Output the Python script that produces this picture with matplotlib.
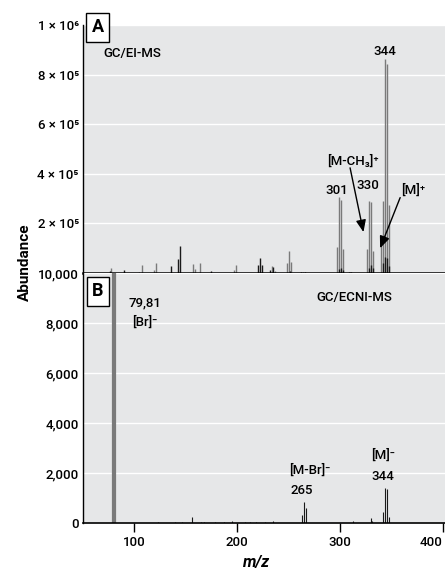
import matplotlib
matplotlib.use("Agg")
import matplotlib.pyplot as plt

plt.rcParams["font.family"] = ["Roboto", "DejaVu Sans"]
plt.rcParams["font.weight"] = "medium"

# --- GC/EI-MS (panel A): tall grey lines and short dark lines
ei_grey_mz = [77, 104, 107, 119, 121, 157, 159, 164, 197, 199, 234, 237,
              248, 250, 252, 264, 297, 299, 301, 303, 310,
              326, 328, 330, 332, 340, 342, 344, 346, 348]
ei_grey_ab = [19000, 3000, 32000, 12000, 39000, 36000, 16000, 42000, 14000, 32000, 27000, 8000,
              40000, 89000, 43000, 6000, 105000, 305000, 295000, 97000, 4000,
              97000, 290000, 285000, 90000, 145000, 292000, 863000, 841000, 276000]
ei_black_mz = [76, 90, 136, 142, 144, 174, 220, 222, 224, 232, 235, 251, 262, 266,
               299, 301, 303, 309, 311, 328, 330, 332, 342, 344, 346, 348]
ei_black_ab = [8000, 12000, 27000, 56000, 108000, 8000, 32000, 59000, 32000, 12000, 23000, 10000, 6000, 5000,
               15000, 20000, 12000, 5000, 5000, 20000, 32000, 20000, 40000, 64000, 60000, 30000]

# --- GC/ECNI-MS (panel B)
br_mz = [79, 81]
br_ab = [60000, 60000]
ecni_mz = [123, 139, 146, 155.6, 165, 168, 178, 187, 195, 208, 212, 218, 227, 235,
           263, 265, 267, 313, 330, 331, 342, 344, 346, 348]
ecni_ab = [60, 50, 40, 230, 60, 40, 50, 40, 70, 50, 40, 60, 40, 80,
           320, 830, 590, 100, 190, 100, 430, 1390, 1360, 250]

top_ticks = [200000, 400000, 600000, 800000, 1000000]
top_labels = ["2 × 10⁵", "4 × 10⁵", "6 × 10⁵", "8 × 10⁵", "1 × 10⁶"]
bot_ticks = [0, 2000, 4000, 6000, 8000, 10000]
bot_labels = ["0", "2,000", "4,000", "6,000", "8,000", "10,000"]
x_ticks = [100, 200, 300, 400]

BG = "#e6e7e8"
GREY = "#7a7a7a"
DARK = "#1a1a1a"
FS = 9.5

fig = plt.figure(figsize=(4.45, 5.74), dpi=100)
ax_a = fig.add_axes([83 / 445, 301 / 574, 362 / 445, 248 / 574])
ax_b = fig.add_axes([83 / 445, 51 / 574, 362 / 445, 250 / 574])

for ax in (ax_a, ax_b):
    ax.set_facecolor(BG)
    ax.set_xlim(50, 402)
    ax.set_axisbelow(True)
    ax.grid(axis="y", color="white", lw=1.0)
    ax.grid(axis="x", visible=False)
    for s in ("top", "right"):
        ax.spines[s].set_visible(False)
    ax.spines["left"].set_linewidth(1.0)
    ax.tick_params(axis="y", length=0, pad=3, labelsize=FS)
ax_a.spines["bottom"].set_linewidth(1.8)
ax_a.spines["bottom"].set_zorder(3)
ax_b.spines["bottom"].set_linewidth(1.2)

# panel A
ax_a.vlines(ei_grey_mz, 0, ei_grey_ab, color=GREY, lw=1.0)
ax_a.vlines(ei_black_mz, 0, ei_black_ab, color=DARK, lw=1.0)
ax_a.set_ylim(0, 1000000)
ax_a.set_yticks(top_ticks)
ax_a.set_yticklabels(top_labels)
ax_a.set_xticks(x_ticks)
ax_a.tick_params(axis="x", length=0, labelbottom=False)

ax_a.text(69.5, 884000, "GC/EI-MS", fontsize=FS, va="center", ha="left")
ax_a.text(344, 892000, "344", fontsize=FS, va="center", ha="center")
ax_a.text(297, 332000, "301", fontsize=FS, va="center", ha="center")
ax_a.text(327.2, 352000, "330", fontsize=FS, va="center", ha="center")
ax_a.text(312.6, 452000, "[M-CH₃]⁺", fontsize=FS, va="center", ha="center")
ax_a.text(371, 332000, "[M]⁺", fontsize=FS, va="center", ha="center")
ax_a.annotate("", xy=(322.7, 165000), xytext=(309.7, 424000),
              arrowprops=dict(arrowstyle="-|>,head_length=0.6,head_width=0.25", color="black",
                              lw=1.0, mutation_scale=12, shrinkA=0, shrinkB=0))
ax_a.annotate("", xy=(338.9, 100000), xytext=(358.4, 304000),
              arrowprops=dict(arrowstyle="-|>,head_length=0.6,head_width=0.25", color="black",
                              lw=1.0, mutation_scale=12, shrinkA=0, shrinkB=0))
ax_a.text(0.041, 0.99, "A", transform=ax_a.transAxes, fontsize=13, fontweight="bold",
          ha="center", va="center", clip_on=False,
          bbox=dict(boxstyle="square,pad=0.3", fc="white", ec="black", lw=1.0))

# panel B
ax_b.vlines(br_mz, 0, br_ab, color=GREY, lw=1.6)
ax_b.vlines(ecni_mz, 0, ecni_ab, color=DARK, lw=0.8)
ax_b.set_ylim(0, 10000)
ax_b.set_yticks(bot_ticks)
ax_b.set_yticklabels(bot_labels)
ax_b.set_xticks(x_ticks)
ax_b.set_xticklabels([str(t) for t in x_ticks])
ax_b.tick_params(axis="x", length=6.5, width=1.0, direction="out", pad=3, labelsize=FS)
ax_b.get_xticklabels()[-1].set_ha("right")

ax_b.text(313.6, 9000, "GC/ECNI-MS", fontsize=FS, va="center", ha="center")
ax_b.text(110.3, 8800, "79,81", fontsize=FS, va="center", ha="center")
ax_b.text(110.3, 8040, "[Br]⁻", fontsize=FS, va="center", ha="center")
ax_b.text(270.8, 2120, "[M-Br]⁻", fontsize=FS, va="center", ha="center")
ax_b.text(263, 1320, "265", fontsize=FS, va="center", ha="center")
ax_b.text(341.8, 2720, "[M]⁻", fontsize=FS, va="center", ha="center")
ax_b.text(341.8, 1880, "344", fontsize=FS, va="center", ha="center")
ax_b.text(0.041, 0.926, "B", transform=ax_b.transAxes, fontsize=13, fontweight="bold",
          ha="center", va="center",
          bbox=dict(boxstyle="square,pad=0.3", fc="white", ec="black", lw=1.0))

fig.text(25 / 445, 1 - 262 / 574, "Abundance", rotation=90, fontsize=11,
         fontweight="bold", ha="center", va="center")
fig.text(257 / 445, 1 - 563 / 574, "m/z", fontsize=11.5, fontweight="bold",
         style="italic", ha="center", va="center")

fig.savefig("out.png", dpi=100)
